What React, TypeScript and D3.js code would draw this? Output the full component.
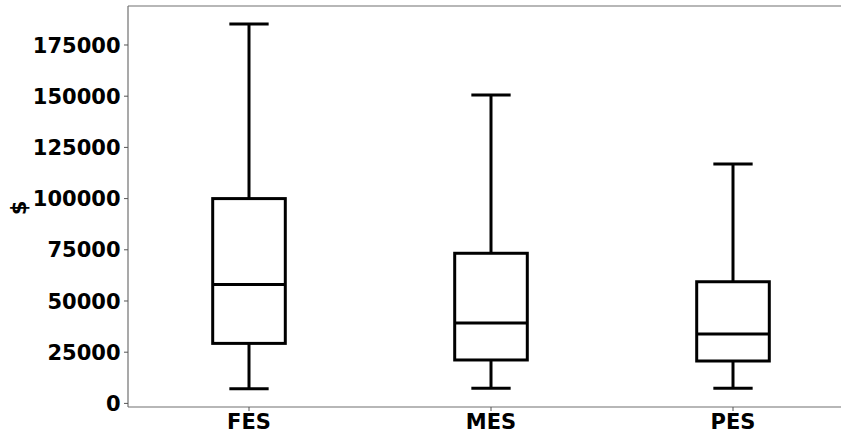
import React from "react";
import * as d3 from "d3";

const categories = ["FES", "MES", "PES"];
const whiskerLow = [7200, 7400, 7400];
const q1 = [29300, 21200, 20700];
const median = [58000, 39300, 33900];
const q3 = [100000, 73300, 59400];
const whiskerHigh = [185200, 150600, 116900];
const yTicks = [0, 25000, 50000, 75000, 100000, 125000, 150000, 175000];

const W = 841;
const H = 434;
const left = 128;
const top = 6;
const bottom = 407;

export default function App() {
  const x = d3.scaleLinear().domain([0.5, 3.5]).range([left, left + 726]);
  const y = d3.scaleLinear().domain([-1760, 194040]).range([bottom, top]);
  const boxW = x(1.3) - x(1);
  const capW = x(1.15) - x(1) + 3;
  const font = "'DejaVu Sans', sans-serif";
  const spine = "#707070";
  return (
    <svg width={W} height={H} style={{ position: "absolute", left: 0, top: 0 }}>
      <rect x={0} y={0} width={W} height={H} fill="#fff" />
      {/* spines */}
      <line x1={left} x2={W + 20} y1={top} y2={top} stroke={spine} strokeWidth={1.2} />
      <line x1={left} x2={W + 20} y1={bottom} y2={bottom} stroke={spine} strokeWidth={1.2} />
      <line x1={left} x2={left} y1={top} y2={bottom} stroke={spine} strokeWidth={1.2} />
      {/* y ticks */}
      {yTicks.map((t) => (
        <g key={t}>
          <line x1={left - 4} x2={left} y1={y(t)} y2={y(t)} stroke="#555" strokeWidth={1} />
          <text
            x={left - 7.5}
            y={y(t)}
            dy="0.36em"
            textAnchor="end"
            fontFamily={font}
            fontWeight="bold"
            fontSize={21}
            fill="#000"
          >
            {t}
          </text>
        </g>
      ))}
      {/* x ticks */}
      {categories.map((c, i) => (
        <g key={c}>
          <line x1={x(i + 1)} x2={x(i + 1)} y1={bottom} y2={bottom + 4} stroke="#555" strokeWidth={1} />
          <text
            x={x(i + 1)}
            y={428.5}
            textAnchor="middle"
            fontFamily={font}
            fontWeight="bold"
            fontSize={21}
            fill="#000"
          >
            {c}
          </text>
        </g>
      ))}
      <text
        transform="translate(26,208) rotate(-90)"
        textAnchor="middle"
        fontFamily={font}
        fontWeight="bold"
        fontSize={21}
        fill="#000"
      >
        $
      </text>
      {/* boxes */}
      {categories.map((c, i) => {
        const cx = x(i + 1);
        return (
          <g key={c} stroke="#000" strokeWidth={3} fill="none">
            <line x1={cx} x2={cx} y1={y(whiskerLow[i])} y2={y(q1[i])} />
            <line x1={cx} x2={cx} y1={y(q3[i])} y2={y(whiskerHigh[i])} />
            <line x1={cx - capW / 2} x2={cx + capW / 2} y1={y(whiskerLow[i])} y2={y(whiskerLow[i])} />
            <line x1={cx - capW / 2} x2={cx + capW / 2} y1={y(whiskerHigh[i])} y2={y(whiskerHigh[i])} />
            <rect x={cx - boxW / 2} y={y(q3[i])} width={boxW} height={y(q1[i]) - y(q3[i])} />
            <line x1={cx - boxW / 2} x2={cx + boxW / 2} y1={y(median[i])} y2={y(median[i])} />
          </g>
        );
      })}
    </svg>
  );
}
